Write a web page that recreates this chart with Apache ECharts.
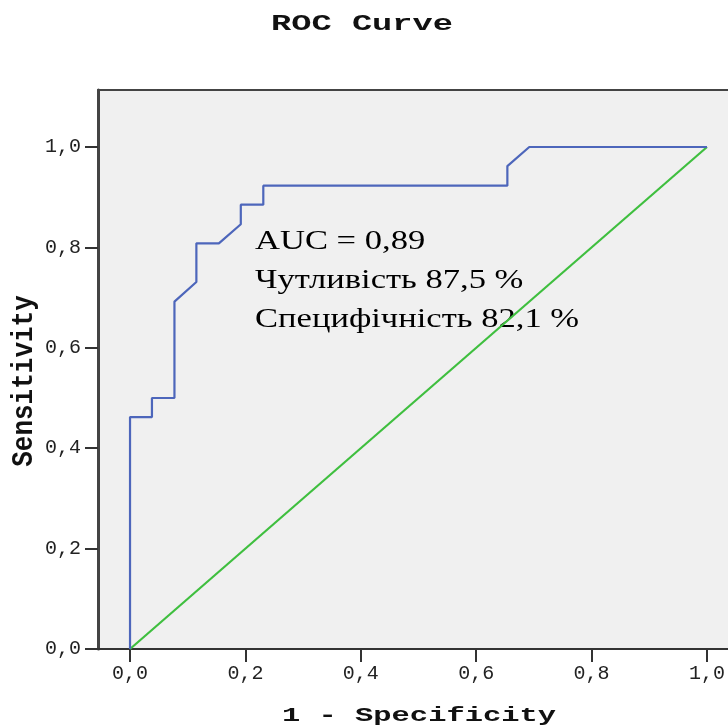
<!DOCTYPE html>
<html>
<head>
<meta charset="utf-8">
<script src="https://cdn.jsdelivr.net/npm/echarts@6/dist/echarts.min.js"></script>
<style>
  html, body { margin: 0; padding: 0; background: #fff; }
  #chart { width: 728px; height: 728px; }
</style>
</head>
<body>
<div id="chart"></div>
<script>
// ROC curve points (1 - specificity, sensitivity)
const fpr = [0, 0, 0.038, 0.038, 0.077, 0.077, 0.115, 0.115, 0.154, 0.192, 0.192, 0.231, 0.231, 0.654, 0.654, 0.692, 1];
const tpr = [0, 0.462, 0.462, 0.5, 0.5, 0.692, 0.731, 0.808, 0.808, 0.846, 0.885, 0.885, 0.923, 0.923, 0.962, 1, 1];
const refLine = [[0, 0], [1, 1]];
const tickValues = [0, 0.2, 0.4, 0.6, 0.8, 1.0];
const notes = ['AUC = 0,89', 'Чутливість 87,5 %', 'Специфічність 82,1 %'];

const mono = '"Liberation Mono", "DejaVu Sans Mono", monospace';
const serif = '"Liberation Serif", "DejaVu Serif", serif';
const fmt = v => v.toFixed(1).replace('.', ',');

const myChart = echarts.init(document.getElementById('chart'));

// the source picture is stretched sideways, so texts get a scaleX
const option = {
    animation: false,
    backgroundColor: '#fff',
    grid: {
        left: 98, top: 90, right: 0, bottom: 79,
        show: true,
        backgroundColor: '#f0f0f0',
        borderWidth: 0
    },
    xAxis: [{
        type: 'value',
        min: -0.0555,
        max: 1.0364,
        axisLine: { show: true, onZero: false, lineStyle: { color: '#333', width: 2 } },
        axisTick: { show: true, customValues: tickValues, length: 13, lineStyle: { color: '#333', width: 2 } },
        axisLabel: {
            customValues: tickValues,
            formatter: fmt,
            fontFamily: mono, fontSize: 20, color: '#222', margin: 15
        },
        splitLine: { show: false }
    }, {
        type: 'value',
        position: 'top',
        min: -0.0555,
        max: 1.0364,
        axisLine: { show: true, onZero: false, lineStyle: { color: '#444', width: 2 } },
        axisTick: { show: false },
        axisLabel: { show: false },
        splitLine: { show: false }
    }],
    yAxis: {
        type: 'value',
        min: 0,
        max: 1.1135,
        axisLine: { show: true, onZero: false, lineStyle: { color: '#444', width: 3 } },
        axisTick: { show: true, customValues: tickValues, length: 13, lineStyle: { color: '#333', width: 2 } },
        axisLabel: {
            customValues: tickValues,
            formatter: fmt,
            fontFamily: mono, fontSize: 20, color: '#222', margin: 17
        },
        splitLine: { show: false }
    },
    graphic: [{
        type: 'text',
        x: 362, y: 24,
        scaleX: 1.53,
        style: {
            text: 'ROC Curve',
            fontFamily: mono, fontWeight: 'bold', fontSize: 22,
            fill: '#111', align: 'center', verticalAlign: 'middle'
        }
    }, {
        type: 'text',
        x: 419, y: 716,
        scaleX: 1.45,
        style: {
            text: '1 - Specificity',
            fontFamily: mono, fontWeight: 'bold', fontSize: 21,
            fill: '#111', align: 'center', verticalAlign: 'middle'
        }
    }, {
        type: 'text',
        x: 25, y: 381,
        rotation: Math.PI / 2,
        scaleY: 1.1,
        style: {
            text: 'Sensitivity',
            fontFamily: mono, fontWeight: 'bold', fontSize: 26,
            fill: '#111', align: 'center', verticalAlign: 'middle'
        }
    }, {
        type: 'text',
        x: 255, y: 222,
        scaleX: 1.28,
        style: {
            text: notes.join('\n'),
            fontFamily: serif,
            fontSize: 27,
            lineHeight: 39,
            fill: '#000'
        }
    }],
    series: [
        {
            type: 'line',
            data: fpr.map((x, i) => [x, tpr[i]]),
            showSymbol: false,
            lineStyle: { color: '#4d66bb', width: 2.2 },
            z: 3
        },
        {
            type: 'line',
            data: refLine,
            showSymbol: false,
            lineStyle: { color: '#3fbf3f', width: 2.2 },
            z: 2
        }
    ]
};

myChart.setOption(option);
</script>
</body>
</html>
